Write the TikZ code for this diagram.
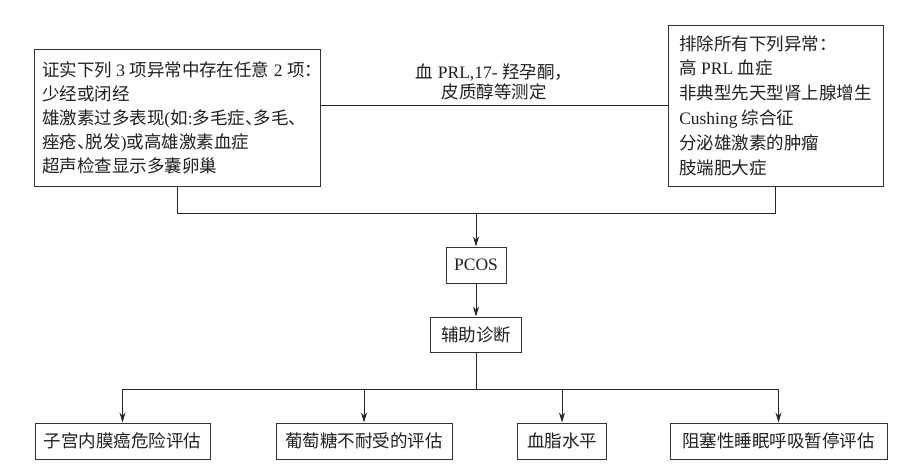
\documentclass[tikz,border=0pt]{standalone}
\usepackage{fontspec}
\setmainfont{Liberation Serif}
\newfontfamily\cjk{Noto Sans CJK SC}
\usetikzlibrary{arrows.meta}
\newcommand\zh[1]{{\cjk #1}}
\newcommand\dun{\makebox[0.5em][l]{\cjk 、}}
\begin{document}
\begin{tikzpicture}[x=1pt,y=-1pt,
  box/.style={draw=black!80, line width=0.9pt, inner sep=0pt, text=black!88, font=\fontsize{17.5}{20}\selectfont},
  txt/.style={inner sep=0pt, text=black!88, font=\fontsize{17.5}{20}\selectfont},
  conn/.style={draw=black!85, line width=0.9pt},
  arr/.style={conn, -{Stealth[length=10pt,width=6pt]}}]
\useasboundingbox (0,0) rectangle (911,476);
% top boxes
\node[box, minimum width=286pt, minimum height=137pt] (crit) at (177,117.5) {};
\node[txt, align=left, font=\fontsize{17.5}{24}\selectfont] (critT) at (182,117.5)
  {\zh{证实下列} 3 \zh{项异常中存在任意} 2 \zh{项：}\\
   \zh{少经或闭经}\\
   \zh{雄激素过多表现}(\zh{如}:\zh{多毛症}\dun\zh{多毛}\dun\\
   \zh{痤疮}\dun\zh{脱发})\zh{或高雄激素血症}\\
   \zh{超声检查显示多囊卵巢}};
\node[box, minimum width=215pt, minimum height=161pt, align=left, font=\fontsize{17.5}{24.8}\selectfont] (excl) at (775.5,105.5)
  {\zh{排除所有下列异常：}\\
   \zh{高} PRL \zh{血症}\\
   \zh{非典型先天型肾上腺增生}\\
   Cushing \zh{综合征}\\
   \zh{分泌雄激素的肿瘤}\\
   \zh{肢端肥大症}};
\node[txt, align=center] (lab) at (494,82)
  {\zh{血} PRL,17- \zh{羟孕酮，}\\ \zh{皮质醇等测定}};
% middle
\node[box, minimum width=60pt, minimum height=36pt] (pcos) at (476,265) {PCOS};
\node[box, minimum width=91pt, minimum height=35pt] (aux) at (476,334.5) {\zh{辅助诊断}};
% bottom boxes
\node[box, minimum width=175pt, minimum height=36pt] (b1) at (122.5,441) {\zh{子宫内膜癌危险评估}};
\node[box, minimum width=176pt, minimum height=36pt] (b2) at (364,441) {\zh{葡萄糖不耐受的评估}};
\node[box, minimum width=89pt, minimum height=36pt] (b3) at (562,441) {\zh{血脂水平}};
\node[box, minimum width=217pt, minimum height=36pt] (b4) at (778.5,441) {\zh{阻塞性睡眠呼吸暂停评估}};
% connectors
\coordinate (m) at (476,213);
\coordinate (hub) at (476,389);
\draw[conn] (crit.east |- excl.west) -- (excl.west);
\draw[conn] (crit.south) -- (crit.south |- m) -- (excl.south |- m) -- (excl.south);
\draw[arr] (m) -- (pcos.north);
\draw[arr] (pcos.south) -- (aux.north);
\draw[conn] (aux.south) -- (hub);
\draw[conn] (b1.north |- hub) -- (b4.north |- hub);
\foreach \b in {b1,b2,b3,b4}{\draw[arr] (\b.north |- hub) -- (\b.north);}
\end{tikzpicture}
\end{document}
